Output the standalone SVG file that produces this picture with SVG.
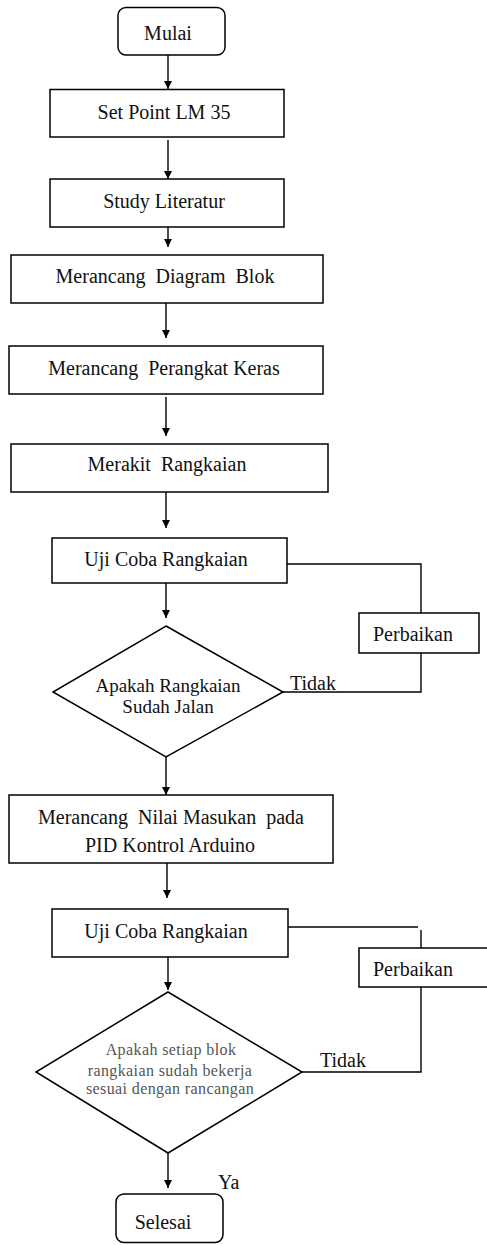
<svg xmlns="http://www.w3.org/2000/svg" width="487" height="1245" viewBox="0 0 487 1245">
<style>
.b{fill:#fff;stroke:#000;stroke-width:1.5}
.c{fill:none;stroke:#000;stroke-width:1.4}
text{font-family:'Liberation Serif','Times New Roman','DejaVu Serif',serif}
.t{font-size:20px;fill:#111;text-anchor:middle;white-space:pre}
.s{font-size:16px;fill:#555;text-anchor:middle;letter-spacing:0.4px}
.l{font-size:20px;fill:#111}
</style>
<defs>
<marker id="ah" markerUnits="userSpaceOnUse" markerWidth="9" markerHeight="9" refX="8" refY="4" orient="auto">
<path d="M0,0 L8,4 L0,8 z" fill="#000"/>
</marker>
</defs>
<g id="connectors">
<line class="c" x1="168" y1="55" x2="168" y2="89" marker-end="url(#ah)"/>
<line class="c" x1="168" y1="140" x2="168" y2="179" marker-end="url(#ah)"/>
<line class="c" x1="168" y1="227" x2="168" y2="247" marker-end="url(#ah)"/>
<line class="c" x1="166" y1="303" x2="166" y2="338" marker-end="url(#ah)"/>
<line class="c" x1="166" y1="397" x2="166" y2="436" marker-end="url(#ah)"/>
<line class="c" x1="166" y1="492" x2="166" y2="528" marker-end="url(#ah)"/>
<line class="c" x1="166" y1="582" x2="166" y2="618" marker-end="url(#ah)"/>
<line class="c" x1="166" y1="757" x2="166" y2="795" marker-end="url(#ah)"/>
<line class="c" x1="167" y1="863" x2="167" y2="898" marker-end="url(#ah)"/>
<line class="c" x1="168" y1="957" x2="168" y2="990" marker-end="url(#ah)"/>
<line class="c" x1="168" y1="1153" x2="168" y2="1188" marker-end="url(#ah)"/>
<polyline class="c" points="287,564 421,564 421,613"/>
<polyline class="c" points="421,653 421,692 283,692"/>
<polyline class="c" points="288,927 418,927"/>
<line class="c" x1="421" y1="930" x2="421" y2="948"/>
<polyline class="c" points="421,987 421,1072 302,1072"/>
<text class="l" x="290" y="690">Tidak</text>
<text class="l" x="320" y="1067">Tidak</text>
<text class="l" x="218" y="1189">Ya</text>
</g>
<g id="mulai">
<rect class="b" x="118" y="7.5" width="107" height="47.5" rx="8"/>
<text class="t" x="168" y="40">Mulai</text>
</g>
<g id="setpoint">
<rect class="b" x="50" y="89.5" width="234" height="47.5"/>
<text class="t" x="164" y="119">Set Point LM 35</text>
</g>
<g id="study">
<rect class="b" x="50" y="179" width="234" height="48"/>
<text class="t" x="164" y="208">Study Literatur</text>
</g>
<g id="diagramblok">
<rect class="b" x="11" y="255" width="312" height="48"/>
<text class="t" x="165" y="283">Merancang  Diagram  Blok</text>
</g>
<g id="perangkat">
<rect class="b" x="9" y="346" width="314" height="48"/>
<text class="t" x="164" y="375">Merancang  Perangkat Keras</text>
</g>
<g id="merakit">
<rect class="b" x="11" y="444" width="317" height="48"/>
<text class="t" x="167" y="471">Merakit  Rangkaian</text>
</g>
<g id="uji1">
<rect class="b" x="52" y="538" width="235" height="45"/>
<text class="t" x="166" y="566">Uji Coba Rangkaian</text>
</g>
<g id="perbaikan1">
<rect class="b" x="359" y="613" width="120" height="40"/>
<text class="t" x="413" y="641">Perbaikan</text>
</g>
<g id="decision1">
<polygon class="b" points="166,626 283,692 166,757 53,692"/>
<text class="t" x="168" y="692" style="font-size:19px">Apakah Rangkaian</text>
<text class="t" x="168" y="713" style="font-size:19px">Sudah Jalan</text>
</g>
<g id="nilai">
<rect class="b" x="9" y="795" width="324" height="68"/>
<text class="t" x="171" y="824">Merancang  Nilai Masukan  pada</text>
<text class="t" x="170" y="852">PID Kontrol Arduino</text>
</g>
<g id="uji2">
<rect class="b" x="52" y="909" width="236" height="48"/>
<text class="t" x="166" y="938">Uji Coba Rangkaian</text>
</g>
<g id="perbaikan2">
<rect class="b" x="359" y="948" width="130" height="39"/>
<text class="t" x="413" y="976">Perbaikan</text>
</g>
<g id="decision2">
<polygon class="b" points="168,992 302,1072 168,1153 36,1072"/>
<text class="s" x="171" y="1055">Apakah setiap blok</text>
<text class="s" x="170" y="1076">rangkaian sudah bekerja</text>
<text class="s" x="170" y="1094">sesuai dengan rancangan</text>
</g>
<g id="selesai">
<rect class="b" x="116" y="1194" width="107" height="48.5" rx="8"/>
<text class="t" x="163" y="1229">Selesai</text>
</g>
</svg>
